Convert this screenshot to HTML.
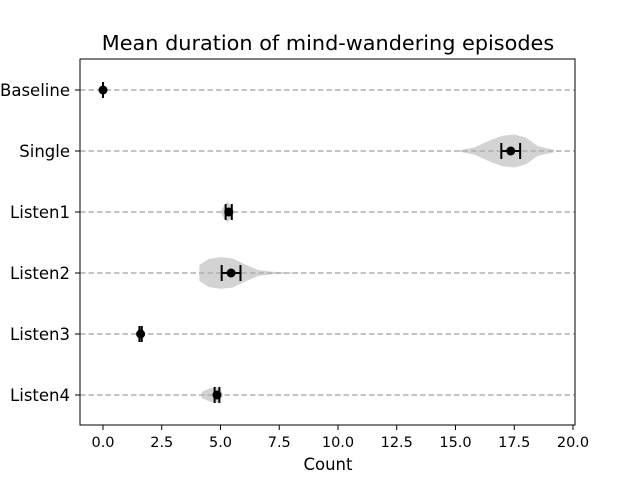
<!DOCTYPE html>
<html><head><meta charset="utf-8"><style>
body{margin:0;background:#fff}
svg text{font-family:"DejaVu Sans","Liberation Sans",sans-serif}
</style></head><body>
<svg id="c" width="640" height="480" xmlns="http://www.w3.org/2000/svg">
<rect width="640" height="480" fill="#fff"/>
<text x="328" y="50" font-size="20.8" text-anchor="middle">Mean duration of mind-wandering episodes</text>
<g id="plot"></g>
<rect x="80" y="59" width="495" height="366" fill="none" stroke="#000" stroke-width="1"/>
<text x="328" y="470" font-size="16.5" text-anchor="middle">Count</text>
</svg>
<script>
const categories=["Baseline","Single","Listen1","Listen2","Listen3","Listen4"];
const means=[0,17.35,5.35,5.45,1.6,4.85];
const ciLow=[0,16.95,5.22,5.05,1.55,4.75];
const ciHigh=[0,17.75,5.48,5.85,1.65,4.95];
// violin outlines: value positions and density half-widths (row fraction)
const violinX=[[0,0],[15.0,15.8,16.5,17.0,17.5,18.0,18.5,19.2],[5.0,5.15,5.3,5.45,5.6],[4.1,4.5,5.0,5.5,6.0,6.6,7.2,8.5],[1.45,1.52,1.6,1.68,1.72],[4.2,4.5,4.8,5.0,5.1]];
const violinW=[[0,0],[0,0.06,0.18,0.25,0.27,0.22,0.08,0.02],[0,0.1,0.17,0.1,0],[0.13,0.23,0.26,0.24,0.15,0.05,0.02,0],[0,0.1,0.14,0.1,0],[0.05,0.1,0.13,0.1,0]];
const xTicks=[0,2.5,5,7.5,10,12.5,15,17.5,20];
const xTickLabels=["0.0","2.5","5.0","7.5","10.0","12.5","15.0","17.5","20.0"];
const NS="http://www.w3.org/2000/svg";
const x=v=>103+v*23.5;
const y=i=>90+i*61;
const rowH=61;
const g=document.getElementById('plot');
function mk(t,a,p){const e=document.createElementNS(NS,t);for(const k in a)e.setAttribute(k,a[k]);(p||g).appendChild(e);return e;}
xTicks.forEach((t,i)=>{
  const tk=mk('line',{x1:x(t),x2:x(t),y1:425,y2:430,stroke:'#000'});
  
  
  const lb=mk('text',{x:x(t),y:447,'font-size':14.5,'text-anchor':'middle'});lb.textContent=xTickLabels[i];
  
  
});
categories.forEach((c,i)=>{
  const yy=y(i);
  const pts=[];
  violinX[i].forEach((v,j)=>pts.push(x(v)+','+(yy-violinW[i][j]*rowH)));
  for(let j=violinX[i].length-1;j>=0;j--)pts.push(x(violinX[i][j])+','+(yy+violinW[i][j]*rowH));
  const vp=mk('polygon',{points:pts.join(' '),fill:'#d3d3d3'});
  
  
  const gl=mk('line',{x1:80,x2:575,y1:yy,y2:yy,stroke:'#b0b0b0','stroke-width':1.5,'stroke-dasharray':'5.5,3'});
  
  
  const tk=mk('line',{x1:75,x2:80,y1:yy,y2:yy,stroke:'#000'});
  
  
  const lb=mk('text',{x:70,y:yy+6,'font-size':16.5,'text-anchor':'end'});lb.textContent=c;
  
  
  const eb=mk('path',{d:`M${x(ciLow[i])},${yy}H${x(ciHigh[i])}M${x(ciLow[i])},${yy-8}V${yy+8}M${x(ciHigh[i])},${yy-8}V${yy+8}`,stroke:'#000','stroke-width':2,fill:'none'});
  
  
  const pt=mk('circle',{cx:x(means[i]),cy:yy,r:4.5,fill:'#000'});
  
  
});
</script>
</body></html>
